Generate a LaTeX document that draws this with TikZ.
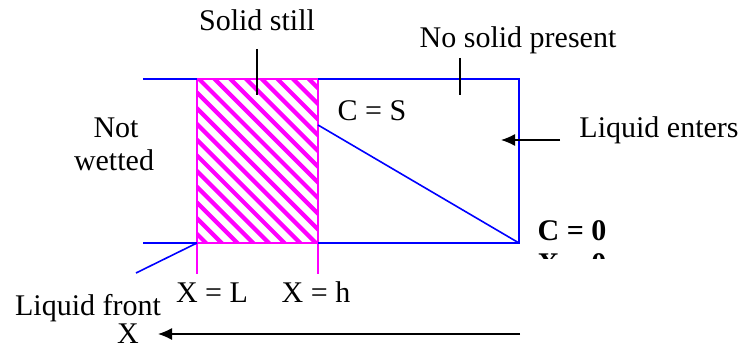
\documentclass[tikz,border=0pt]{standalone}
\usepackage{fontspec}
\setmainfont{Liberation Serif}
\usetikzlibrary{arrows.meta,positioning}
\definecolor{wallblue}{RGB}{0,0,255}
\definecolor{solidpink}{RGB}{255,0,255}
\tikzset{
  textlabel/.style={font=\fontsize{15}{18}\selectfont, inner sep=0pt, anchor=base},
  boldlabel/.style={textlabel, font=\fontsize{15}{18}\selectfont\bfseries},
  wall/.style={draw=wallblue, line width=0.8pt},
  solidedge/.style={draw=solidpink, line width=1pt},
  hatchline/.style={solidpink, line width=2.1pt},
  leader/.style={draw=black, line width=0.6pt},
  arrow/.style={-{Latex[length=7pt, width=6pt]}, line width=0.6pt}
}
\begin{document}
\begin{tikzpicture}[x=0.5pt, y=-0.5pt]
  \useasboundingbox (0,0) rectangle (742,347);

  % channel and solid region
  \coordinate (tl) at (143,79);
  \coordinate (bl) at (143,243);
  \coordinate (tr) at (519,79);
  \coordinate (br) at (519,243);
  \coordinate (sL) at (197,243);
  \coordinate (sh) at (318,243);

  \begin{scope}
    \clip (197,79) rectangle (318,243);
    \foreach \k in {-10,...,20}
      \draw[hatchline] (180+15.7*\k,60) -- ++(200,200);
  \end{scope}
  \draw[solidedge] (197,79) rectangle (318,243);
  \draw[solidedge] (sL) -- (197,274);
  \draw[solidedge] (sh) -- (318,274);

  \draw[wall] (tl) -- (197,79) (318,79) -- (tr) -- (br) -- (sh) (sL) -- (bl);
  \draw[wall] (318,125) -- (br);
  \draw[wall] (sL) -- (136,273);

  % labels
  \node[textlabel] (still) at (257,31) {Solid still};
  \node[textlabel] (nosolid) at (518,48) {No solid present};
  \node[textlabel] (cs) at (372,121) {C = S};
  \node[textlabel] (notw) at (116,138) {Not};
  \node[textlabel] (wetted) at (114,170) {wetted};
  \node[textlabel] (enters) at (659,138) {Liquid enters};
  \node[boldlabel] (c0) at (572,240) {C = 0};
  \begin{scope}
    \clip (530,245) rectangle (620,258);
    \node[boldlabel] (x0) at (572,273) {X = 0};
  \end{scope}
  \node[textlabel] (xl) at (212,302) {X = L};
  \node[textlabel] (xh) at (316,302) {X = h};
  \node[textlabel] (front) at (88,315) {Liquid front};
  \node[textlabel] (xaxis) at (128,343) {X};

  % leaders and arrows
  \draw[leader] (257,49) -- (257,95);
  \draw[leader] (460,58) -- (460,95);
  \draw[arrow] (560,140) -- (501,140);
  \draw[arrow] (520,334) -- (158,334);
\end{tikzpicture}
\end{document}
